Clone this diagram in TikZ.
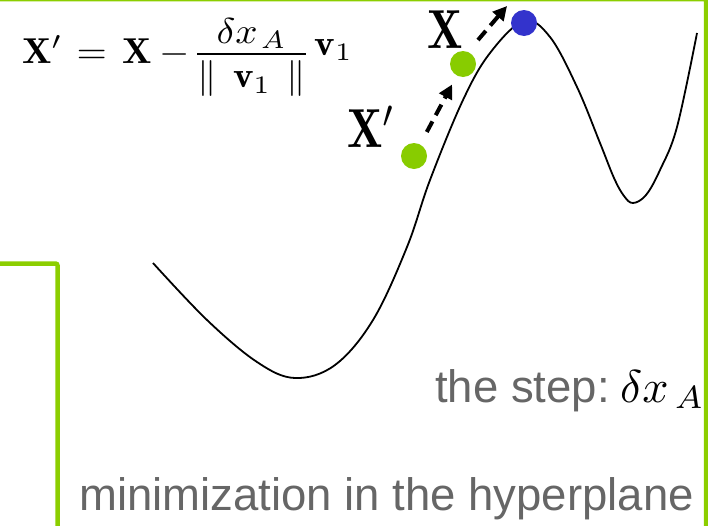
\documentclass[tikz,border=0pt]{standalone}
\usepackage{amsmath}
\usepackage{fontspec}
\usepackage{graphicx}
\newfontfamily\arialfont{Liberation Sans}
\usetikzlibrary{arrows.meta}
\definecolor{frgreen}{RGB}{140,206,0}
\definecolor{dotgreen}{RGB}{136,204,0}
\definecolor{dotblue}{RGB}{51,51,204}
\definecolor{txtgray}{RGB}{102,102,102}
\tikzset{
  frameline/.style={draw=frgreen, line width=4.5pt, rounded corners=2pt},
  dotnode/.style={circle, inner sep=0pt, minimum size=26pt},
  steparrow/.style={line width=4pt, dash pattern=on 12pt off 7pt, -{Triangle[length=14pt,width=14pt]}},
  curveline/.style={line width=1.8pt},
  graytext/.style={anchor=base west, inner sep=0pt, text=txtgray, font=\arialfont\fontsize{45.5}{50}\selectfont},
  mathlabel/.style={anchor=base west, inner sep=0pt}
}
\begin{document}
\begin{tikzpicture}[x=1pt,y=-1pt]
\useasboundingbox (0,0) rectangle (708,525);
% frames
\draw[frameline] (-10,-1) -- (706,-1) -- (706,540);
\draw[frameline] (-10,263.5) -- (57.5,263.5) -- (57.5,540);
% curve
\draw[curveline] plot[smooth, tension=0.6] coordinates {(153,263) (207,320) (257,362) (295,378) (335,365) (373,320) (407,247) (430,180) (463,100) (490,53) (524,21) (550,37) (577,87) (600,143) (614,178) (624,196) (633,203) (646,195) (660,170) (677,127) (697,33)};
% formula
\node[mathlabel] (f) at (22,63) {\scalebox{3.9}[3.6]{$\mathbf{X}'\mkern6.5mu\mathord{=}\mkern7mu\mathbf{X}\mkern3.4mu\mathord{-}\mkern1.5mu\dfrac{\raisebox{-1.7pt}{$\delta x_{\mkern2mu A}$}}{\|\mkern7.5mu\mathbf{v}_1\mkern7mu\|}\mkern2mu\raisebox{2.2pt}{$\mathbf{v}_1$}$}};
% labels
\node[mathlabel] (lx) at (427,48) {\scalebox{4.7}[5.5]{$\mathbf{X}$}};
\node[mathlabel] (lxp) at (347,147) {\scalebox{4.7}[5.5]{$\mathbf{X}'$}};
% dots
\node[dotnode, fill=dotgreen] (xp) at (414,156) {};
\node[dotnode, fill=dotgreen] (xg) at (463,64) {};
\node[dotnode, fill=dotblue] (xb) at (524,23) {};
% arrows
\draw[steparrow, shorten <=14pt, shorten >=10pt] (xp) -- (xg);
\coordinate (a2s) at (478,40);
\coordinate (a2e) at (507,6);
\draw[steparrow] (a2s) -- (a2e);
% texts
\node[graytext] (st) at (435,402) {the step:};
\node[mathlabel] (dx) at (620,402) {\scalebox{4.6}{$\delta x_{\mkern3mu A}$}};
\node[graytext] (mh) at (79,510) {minimization in the hyperplane};
\end{tikzpicture}
\end{document}
